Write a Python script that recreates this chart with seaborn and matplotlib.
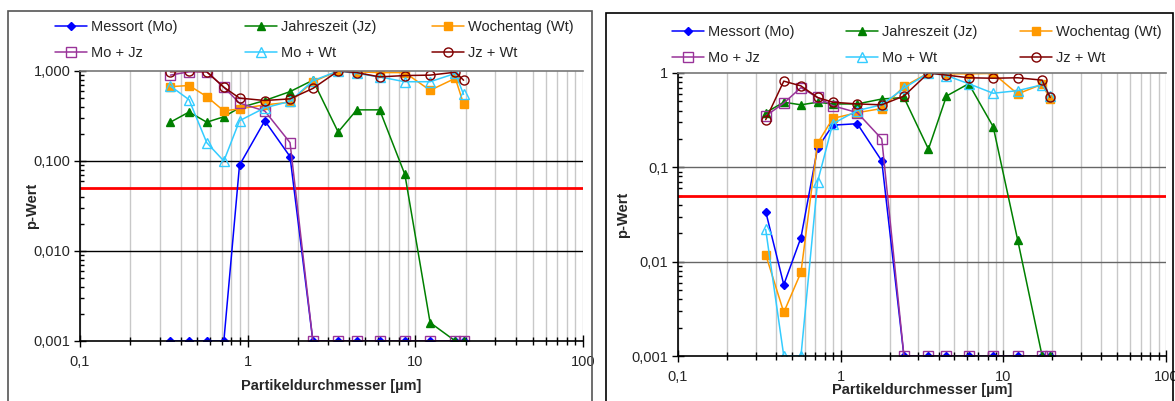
import numpy as np
import matplotlib
matplotlib.use('Agg')
import matplotlib.pyplot as plt
import matplotlib.ticker as mticker
from matplotlib.patches import Rectangle
import seaborn as sns

# Partikeldurchmesser (Kanalmitten) in µm
durchmesser = [0.346, 0.447, 0.570, 0.721, 0.894, 1.265, 1.789, 2.449,
               3.464, 4.472, 6.124, 8.660, 12.25, 17.32, 19.4]

namen = ['Messort (Mo)', 'Jahreszeit (Jz)', 'Wochentag (Wt)',
         'Mo + Jz', 'Mo + Wt', 'Jz + Wt']

# linkes Diagramm: p-Werte
links_mo = [0.001, 0.001, 0.001, 0.001, 0.090, 0.28, 0.112, 0.001,
            0.001, 0.001, 0.001, 0.001, 0.001, 0.001, 0.001]
links_jz = [0.27, 0.35, 0.27, 0.31, 0.39, 0.47, 0.59, 0.79,
            0.21, 0.37, 0.37, 0.071, 0.0016, 0.001, 0.001]
links_wt = [0.67, 0.69, 0.52, 0.36, 0.38, 0.42, 0.45, 0.76,
            1.0, 0.98, 0.96, 0.96, 0.61, 0.83, 0.43]
links_mo_jz = [0.90, 0.98, 0.98, 0.66, 0.44, 0.36, 0.16, 0.001,
               0.001, 0.001, 0.001, 0.001, 0.001, 0.001, 0.001]
links_mo_wt = [0.68, 0.48, 0.16, 0.10, 0.28, 0.39, 0.46, 0.78,
               1.0, 0.94, 0.86, 0.76, 0.76, 0.94, 0.55]
links_jz_wt = [0.98, 1.0, 0.98, 0.66, 0.50, 0.47, 0.49, 0.64,
               1.0, 0.96, 0.86, 0.89, 0.90, 0.97, 0.79]

# rechtes Diagramm: p-Werte
rechts_mo = [0.034, 0.0057, 0.018, 0.16, 0.28, 0.29, 0.117, 0.001,
             0.001, 0.001, 0.001, 0.001, 0.001, 0.001, 0.001]
rechts_jz = [0.38, 0.49, 0.46, 0.49, 0.47, 0.47, 0.53, 0.55,
             0.156, 0.57, 0.77, 0.27, 0.017, 0.001, 0.001]
rechts_wt = [0.0119, 0.0029, 0.0077, 0.18, 0.33, 0.38, 0.42, 0.72,
             1.0, 0.98, 0.98, 0.99, 0.60, 0.76, 0.53]
rechts_mo_jz = [0.35, 0.48, 0.70, 0.55, 0.45, 0.38, 0.20, 0.001,
                0.001, 0.001, 0.001, 0.001, 0.001, 0.001, 0.001]
rechts_mo_wt = [0.022, 0.001, 0.001, 0.070, 0.29, 0.40, 0.46, 0.69,
                1.0, 0.94, 0.77, 0.61, 0.65, 0.75, 0.57]
rechts_jz_wt = [0.32, 0.82, 0.73, 0.55, 0.49, 0.47, 0.46, 0.57,
                1.0, 0.95, 0.89, 0.88, 0.89, 0.84, 0.55]

x_beschriftung = ['0,1', '1', '10', '100']
y_links = ['0,001', '0,010', '0,100', '1,000']
y_rechts = ['0,001', '0,01', '0,1', '1']
signifikanz = 0.05

# Stil je Reihe: Farbe, Marker, gefüllt?, Größe
stile = [('#0000ff', 'D', True, 4.5),
         ('#008000', '^', True, 5.5),
         ('#ff9900', 's', True, 6),
         ('#993399', 's', False, 6.5),
         ('#33ccff', '^', False, 6.5),
         ('#800000', 'o', False, 6.5)]

sns.set_theme(style='white')
plt.rcParams['font.family'] = ['Liberation Sans', 'DejaVu Sans']

W, H = 1175, 401
fig = plt.figure(figsize=(W / 100, H / 100), dpi=100)


def ax_px(x0, y0, x1, y1):
    return fig.add_axes([x0 / W, 1 - y1 / H, (x1 - x0) / W, (y1 - y0) / H])


# Rahmen der beiden Diagrammflächen
fig.patches.append(Rectangle((8 / W, -0.1), 584 / W, 1.1 - 11 / H,
                             transform=fig.transFigure, fill=False,
                             edgecolor='#555555', lw=1.2))
fig.patches.append(Rectangle((606 / W, -0.1), 567 / W, 1.1 - 13 / H,
                             transform=fig.transFigure, fill=False,
                             edgecolor='black', lw=1.2))


def zeichne(ax, reihen, ylabels, gitterfarbe, leg_x, leg_y, lab_x, xlab_y):
    handles = []
    for name, werte, (farbe, marker, voll, ms) in zip(namen, reihen, stile):
        sns.lineplot(x=durchmesser, y=werte, ax=ax, color=farbe, marker=marker,
                     markersize=ms, markerfacecolor=farbe if voll else 'none',
                     markeredgecolor=farbe, markeredgewidth=1.0, lw=1.1,
                     label=name, estimator=None, sort=False, legend=False)
        handles.append(ax.lines[-1])

    ax.set_xscale('log')
    ax.set_yscale('log')
    ax.set_xlim(0.1, 100)
    ax.set_ylim(0.001, 1)
    ax.set_xticks([0.1, 1, 10, 100])
    ax.set_xticklabels(x_beschriftung)
    ax.set_yticks([0.001, 0.01, 0.1, 1])
    ax.set_yticklabels(ylabels)
    ax.xaxis.set_minor_locator(mticker.LogLocator(base=10, subs=np.arange(2, 10)))
    ax.yaxis.set_minor_locator(mticker.LogLocator(base=10, subs=np.arange(2, 10)))
    ax.xaxis.set_minor_formatter(mticker.NullFormatter())
    ax.yaxis.set_minor_formatter(mticker.NullFormatter())

    ax.set_axisbelow(True)
    ax.grid(axis='x', which='both', color='#c8c8c8', lw=1)
    ax.grid(axis='y', which='both', visible=False)
    for y in (0.01, 0.1):
        ax.axhline(y, color=gitterfarbe, lw=1, zorder=1)
    ax.axhline(signifikanz, color='red', lw=2, zorder=1.5)

    for s in ('left', 'bottom'):
        ax.spines[s].set_color('black')
        ax.spines[s].set_linewidth(1.2)
    ax.spines['right'].set_visible(False)
    ax.spines['top'].set_color('#777777')
    ax.spines['top'].set_linewidth(1.2)

    ax.tick_params(axis='x', which='major', direction='inout', length=8,
                   width=1, color='black', labelsize=10.5, pad=6, bottom=True)
    ax.tick_params(axis='x', which='minor', direction='inout', length=6,
                   width=1, color='black', bottom=True)
    ax.tick_params(axis='y', which='major', direction='inout', length=8,
                   width=1, color='black', labelsize=10.5, pad=3, left=True)
    ax.tick_params(axis='y', which='minor', direction='in', length=3,
                   width=1, color='black', left=True)

    ax.set_xlabel('Partikeldurchmesser [µm]', fontsize=10.5, fontweight='bold')
    ax.set_ylabel('p-Wert', fontsize=10.5, fontweight='bold')
    ax.xaxis.set_label_coords(0.5, xlab_y)
    ax.yaxis.set_label_coords(lab_x, 0.5)

    # Legende in drei Spalten, Reihenfolge zeilenweise
    for i, x0 in enumerate(leg_x):
        leg = ax.legend(handles=[handles[i], handles[i + 3]],
                        loc='upper left', bbox_to_anchor=(x0 / W, 1 - leg_y / H),
                        bbox_transform=fig.transFigure, frameon=False,
                        fontsize=10.5, borderpad=0, borderaxespad=0,
                        handlelength=2.2, handletextpad=0.3, labelspacing=0.85)
        if i < len(leg_x) - 1:
            ax.add_artist(leg)


ax1 = ax_px(80, 71, 583, 341)
zeichne(ax1, [links_mo, links_jz, links_wt, links_mo_jz, links_mo_wt, links_jz_wt],
        y_links, 'black', [55, 245, 432], 20, -0.082, -0.14)

ax2 = ax_px(678, 73, 1166, 356)
zeichne(ax2, [rechts_mo, rechts_jz, rechts_wt, rechts_mo_jz, rechts_mo_wt, rechts_jz_wt],
        y_rechts, '#666666', [672, 846, 1020], 25, -0.098, -0.095)

fig.savefig('out.png', dpi=100)
